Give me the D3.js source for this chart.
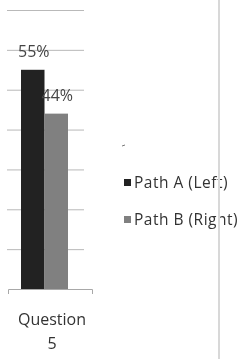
<!DOCTYPE html>
<html>
<head>
<meta charset="utf-8">
<script src="https://cdn.jsdelivr.net/npm/d3@7"></script>
<style>
  body { margin: 0; background: #fff; }
  svg { display: block; }
</style>
</head>
<body>
<svg id="chart" width="248" height="359"></svg>
<script>
// chart data
const categories = ['Question 5']
const seriesNames = ['Path A (Left)', 'Path B (Right)']
const seriesValues = [0.55, 0.44]
const gridTicks = [0, 0.1, 0.2, 0.3, 0.4, 0.5, 0.6, 0.7]
const seriesColors = ['#222222', '#808080']

const svg = d3.select('#chart')
const font = "'Open Sans', sans-serif"

// slight blur, the reference is a scan
const defs = svg.append('defs')
defs.append('filter').attr('id', 'soft')
  .append('feGaussianBlur').attr('stdDeviation', 0.35)

const root = svg.append('g').attr('filter', 'url(#soft)')

const x0 = d3.scaleBand().domain(categories).range([8, 92])
const y = d3.scaleLinear().domain([0, 0.7]).range([289, 10])

// gridlines
root.append('g')
  .attr('transform', 'translate(84,0)')
  .call(d3.axisLeft(y).tickValues(gridTicks.slice(1)).tickSize(77).tickFormat(''))
  .call(g => g.select('.domain').remove())
  .call(g => g.selectAll('line').attr('stroke', '#b9b9b9').attr('stroke-width', 1))

// bars
const xs = d3.scaleBand().domain(seriesNames)
  .range([x0(categories[0]) + 13, x0(categories[0]) + 60])

root.selectAll('.bar')
  .data(seriesValues)
  .enter()
  .append('rect')
  .attr('class', 'bar')
  .attr('x', (d, i) => xs(seriesNames[i]))
  .attr('y', d => y(d))
  .attr('width', xs.bandwidth())
  .attr('height', d => y(0) - y(d))
  .attr('fill', (d, i) => seriesColors[i])

// x axis baseline
root.append('g')
  .attr('transform', `translate(0,${y(0)})`)
  .call(d3.axisBottom(x0).tickSize(0).tickSizeOuter(5).tickFormat(''))
  .call(g => g.select('.domain').attr('stroke', '#a8a8a8'))

// value labels
root.selectAll('.val')
  .data(seriesValues)
  .enter()
  .append('text')
  .attr('x', (d, i) => xs(seriesNames[i]) + xs.bandwidth() / 2 + 1)
  .attr('y', d => y(d) - 13)
  .attr('text-anchor', 'middle')
  .style('font-family', font)
  .style('font-size', '16px')
  .style('fill', '#444')
  .text(d => Math.round(d * 100) + '%')

// category label on two lines
const cat = root.append('text')
  .attr('x', x0(categories[0]) + x0.bandwidth() / 2 + 2)
  .attr('y', 325)
  .attr('text-anchor', 'middle')
  .style('font-family', font)
  .style('font-size', '16px')
  .style('fill', '#333')
cat.selectAll('tspan')
  .data(categories[0].split(' '))
  .enter()
  .append('tspan')
  .attr('x', x0(categories[0]) + x0.bandwidth() / 2 + 2)
  .attr('dy', (d, i) => i ? 24 : 0)
  .text(d => d)

// stray mark
root.append('line')
  .attr('x1', 122).attr('x2', 125)
  .attr('y1', 146).attr('y2', 145)
  .attr('stroke', '#777')

// legend
const legend = root.selectAll('.leg')
  .data(seriesNames)
  .enter()
  .append('g')
  .attr('transform', (d, i) => `translate(124,${183 + i * 37})`)

legend.append('rect')
  .attr('x', 0).attr('y', -4)
  .attr('width', 7).attr('height', 7)
  .attr('fill', (d, i) => seriesColors[i])

legend.append('text')
  .attr('x', 10).attr('y', 5)
  .style('font-family', font)
  .style('font-size', '15.5px')
  .style('letter-spacing', '0.5px')
  .style('fill', '#333')
  .text(d => d)

// page border at the right
root.append('line')
  .attr('x1', 219).attr('x2', 219)
  .attr('y1', 0).attr('y2', 359)
  .attr('stroke', '#d8d8d8')
  .attr('stroke-width', 2)
</script>
</body>
</html>
